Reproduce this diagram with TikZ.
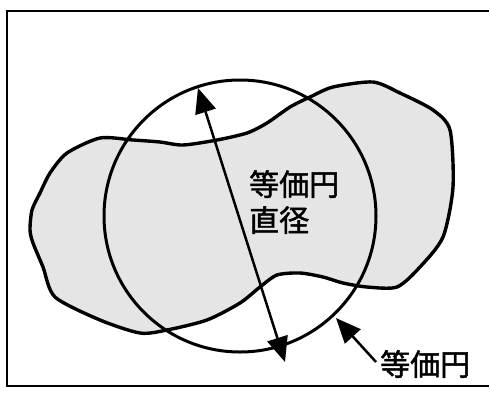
\documentclass[tikz,border=0pt]{standalone}
\usepackage{fontspec}
\newfontfamily\cjk[FakeBold=1.6]{Noto Sans CJK JP}
\usetikzlibrary{arrows.meta}
\tikzset{
  outline/.style={line width=3.4pt, line join=round},
  eqcircle/.style={line width=3pt},
  bigarrow/.style={line width=2.5pt, -{Triangle[length=25pt,width=21pt]}},
  label/.style={font=\cjk\fontsize{30}{36}\selectfont, inner sep=0pt, align=left},
}
\begin{document}
\begin{tikzpicture}[x=1pt,y=-1pt]
\useasboundingbox (0,0) rectangle (490,392);
\fill[white] (0,0) rectangle (490,392);
% frame
\draw[line width=1.6pt] (489,11) -- (7,11) -- (7,386) -- (489,386);
% blob
\filldraw[outline, fill=gray!20, draw=black] plot[smooth cycle, tension=0.45] coordinates {
(33,243) (43,267) (55,297) (100,320) (140,333) (167,330) (207,320) (240,303)
(260,287) (277,275) (300,273) (323,277) (343,283) (367,287) (397,287) (420,267)
(443,237) (453,187) (450,130) (433,110) (400,93) (373,82) (333,87) (310,97)
(290,107) (267,123) (247,133) (217,140) (183,145) (160,142) (133,140) (100,138)
(67,153) (50,173) (40,193) (32,210) (30,230)};
% equivalent circle
\draw[eqcircle] (240,216) circle[radius=136];
% diameter arrows
\coordinate (dtop) at (198,88);
\coordinate (dbot) at (285,362);
\coordinate (dmid) at (241.5,225);
\draw[bigarrow] (dmid) -- (dtop);
\draw[bigarrow] (dmid) -- (dbot);
% labels
\node[label, anchor=north west] (diam) at (249,170) {等価円\\直径};
\node[label, anchor=west] (circ) at (380,364) {等価円};
\coordinate (ctip) at (336,318);
\draw[bigarrow] (circ.west) ++(-4,-2) coordinate (ctail) -- (ctip);
\end{tikzpicture}
\end{document}
